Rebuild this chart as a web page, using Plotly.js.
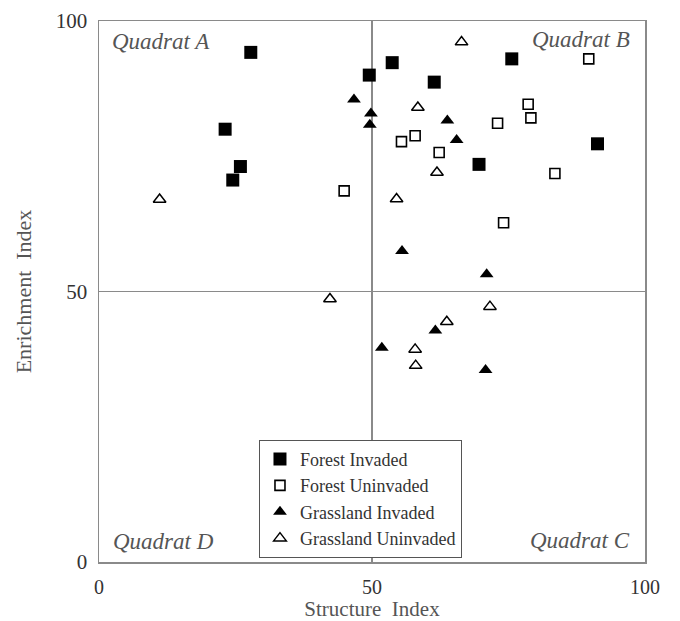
<!DOCTYPE html>
<html>
<head>
<meta charset="utf-8">
<script src="https://cdn.plot.ly/plotly-3.0.1.min.js"></script>
<style>html,body{margin:0;padding:0;background:#fff;}#chart{width:680px;height:621px;}</style>
</head>
<body>
<div id="chart"></div>
<script>
// Forest Invaded
const forestInvadedX = [27.8, 49.5, 23.1, 25.9, 24.5, 53.7, 75.6, 61.4, 91.3, 69.6];
const forestInvadedY = [94.2, 90.0, 80.0, 73.1, 70.6, 92.3, 93.0, 88.7, 77.3, 73.5];
// Forest Uninvaded
const forestUninvadedX = [44.9, 89.7, 78.6, 79.1, 73.0, 57.9, 55.4, 62.3, 83.5, 74.1];
const forestUninvadedY = [68.6, 93.0, 84.6, 82.1, 81.1, 78.8, 77.7, 75.7, 71.8, 62.7];
// Grassland Invaded
const grassInvadedX = [46.7, 49.8, 49.6, 63.8, 65.5, 55.5, 71.0, 51.8, 61.6, 70.8];
const grassInvadedY = [85.5, 82.9, 80.8, 81.6, 78.0, 57.5, 53.2, 39.6, 42.8, 35.5];
// Grassland Uninvaded
const grassUninvadedX = [11.1, 42.3, 66.4, 58.4, 61.9, 54.5, 71.6, 63.7, 57.9, 58.0];
const grassUninvadedY = [67.0, 48.6, 96.1, 84.0, 72.0, 67.1, 47.2, 44.4, 39.3, 36.3];

const seriesNames = ["Forest Invaded", "Forest Uninvaded", "Grassland Invaded", "Grassland Uninvaded"];
const quadratLabels = ["Quadrat A", "Quadrat B", "Quadrat C", "Quadrat D"];
const axisTicks = [0, 50, 100];

const serif = "Liberation Serif, Times New Roman, serif";
const frameColor = "#8a8a8a";
const textColor = "#555555";

const traces = [
  {x: forestInvadedX, y: forestInvadedY, name: seriesNames[0], type: "scatter", mode: "markers",
   marker: {symbol: "square", size: 13, color: "#000"}},
  {x: forestUninvadedX, y: forestUninvadedY, name: seriesNames[1], type: "scatter", mode: "markers",
   marker: {symbol: "square", size: 10, color: "#fff", line: {color: "#000", width: 1.6}}},
  {x: grassInvadedX, y: grassInvadedY, name: seriesNames[2], type: "scatter", mode: "markers",
   marker: {symbol: "triangle-up", size: 12, color: "#000"}},
  {x: grassUninvadedX, y: grassUninvadedY, name: seriesNames[3], type: "scatter", mode: "markers",
   marker: {symbol: "triangle-up", size: 11, color: "#fff", line: {color: "#000", width: 1.5}}}
];

const qFont = {family: serif, size: 23, color: textColor, style: "italic"};
const layout = {
  width: 680, height: 621,
  margin: {l: 98.5, r: 34.5, t: 21, b: 59},
  paper_bgcolor: "#fff", plot_bgcolor: "#fff",
  showlegend: true,
  legend: {x: 0.293, y: 0.226, xanchor: "left", yanchor: "top",
           font: {family: serif, size: 18, color: "#333"},
           bordercolor: "#555", borderwidth: 1, bgcolor: "#fff",
           itemwidth: 30, tracegroupgap: 0},
  xaxis: {range: [0, 100], tickvals: axisTicks, ticktext: axisTicks.map(String),
          showgrid: true, gridcolor: frameColor, gridwidth: 1.5, zeroline: false,
          showline: true, mirror: true, linecolor: frameColor, linewidth: 1.5,
          ticks: "", ticklabelstandoff: 6,
          tickfont: {family: serif, size: 20, color: "#333"},
          title: {text: "Structure  Index", font: {family: serif, size: 21, color: textColor}, standoff: 4}},
  yaxis: {range: [0, 100], tickvals: axisTicks, ticktext: axisTicks.map(String),
          showgrid: true, gridcolor: frameColor, gridwidth: 1.5, zeroline: false,
          showline: true, mirror: true, linecolor: frameColor, linewidth: 1.5,
          ticks: "", ticklabelstandoff: 6,
          tickfont: {family: serif, size: 21, color: "#333"},
          title: {text: "Enrichment  Index", font: {family: serif, size: 22, color: textColor}, standoff: 18}},
  annotations: [
    {x: 2.0, y: 96.2, xref: "x", yref: "y", xanchor: "left", yanchor: "middle", text: quadratLabels[0], showarrow: false, font: qFont},
    {x: 97.6, y: 96.6, xref: "x", yref: "y", xanchor: "right", yanchor: "middle", text: quadratLabels[1], showarrow: false, font: qFont},
    {x: 97.7, y: 4.0, xref: "x", yref: "y", xanchor: "right", yanchor: "middle", text: quadratLabels[2], showarrow: false, font: qFont},
    {x: 2.2, y: 3.7, xref: "x", yref: "y", xanchor: "left", yanchor: "middle", text: quadratLabels[3], showarrow: false, font: qFont}
  ]
};

Plotly.newPlot("chart", traces, layout, {displayModeBar: false, staticPlot: true});
</script>
</body>
</html>
